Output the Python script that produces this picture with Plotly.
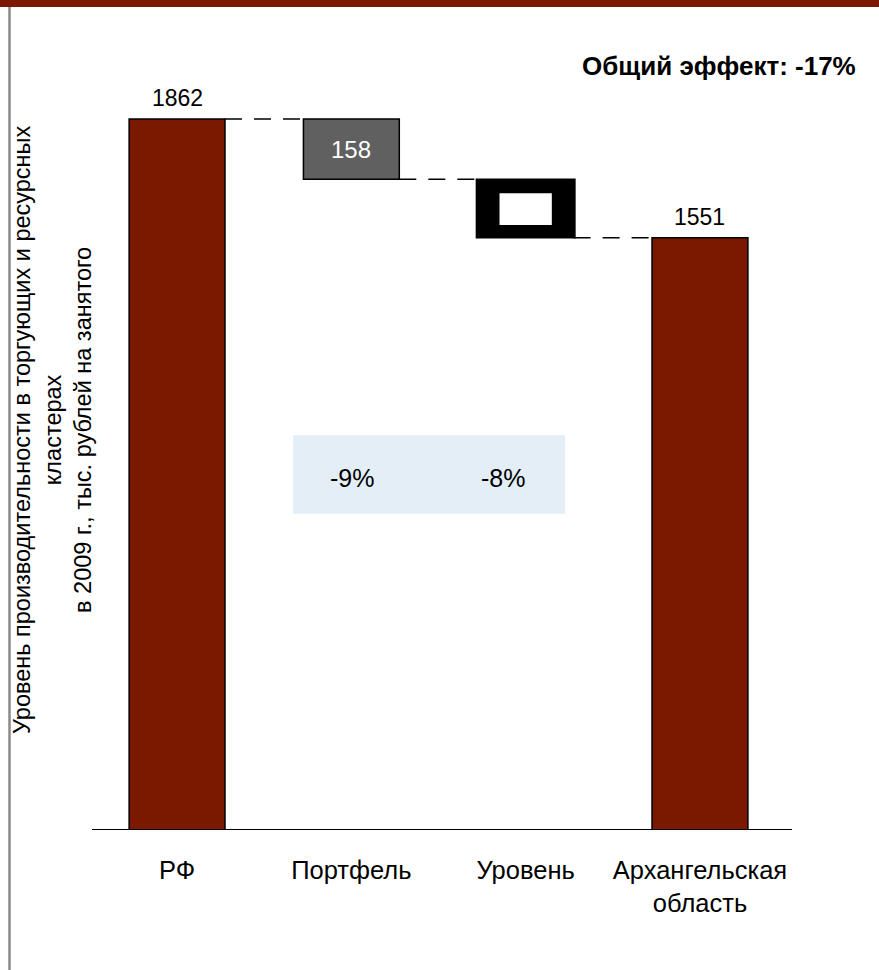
import plotly.graph_objects as go

categories = ["РФ", "Портфель", "Уровень", "Архангельская<br>область"]
start_value = 1862
end_value = 1551
step_values = [158, 153]          # decreases: Портфель, Уровень
step_labels = ["158", ""]
pct_labels = ["-9%", "-8%"]
total_label = "Общий эффект: -17%"
y_title = ("Уровень производительности в торгующих и ресурсных<br>"
           "кластерах<br>в 2009 г., тыс. рублей на занятого")

RED = "#7B1800"
GRAY = "#606060"
FONT = "Liberation Sans, Arial, sans-serif"

fig = go.Figure()

# totals
fig.add_trace(go.Bar(
    x=[categories[0], categories[3]], y=[start_value, end_value],
    width=0.55, marker=dict(color=RED, line=dict(color="black", width=1.5)),
    showlegend=False, hoverinfo="skip"))
for cat, v in [(categories[0], start_value), (categories[3], end_value)]:
    fig.add_annotation(x=cat, y=v, xref="x", yref="y", text=str(v), showarrow=False,
                       yanchor="bottom", yshift=6,
                       font=dict(size=23, color="black", family=FONT))

# steps
top1 = start_value
base1 = start_value - step_values[0]
base2 = base1 - step_values[1]
fig.add_trace(go.Bar(
    x=[categories[1]], y=[step_values[0]], base=[base1], width=0.55,
    marker=dict(color=GRAY, line=dict(color="black", width=1.5)),
    showlegend=False, hoverinfo="skip"))
fig.add_annotation(x=categories[1], y=base1 + step_values[0] / 2, xref="x", yref="y",
                   text=step_labels[0], showarrow=False,
                   font=dict(size=24, color="white", family=FONT))
fig.add_trace(go.Bar(
    x=[categories[2]], y=[step_values[1]], base=[base2], width=0.565,
    marker=dict(color="black", line=dict(color="black", width=1.5)),
    showlegend=False, hoverinfo="skip"))
# white inner window of the Уровень step
fig.add_trace(go.Bar(
    x=[categories[2]], y=[step_values[1] * 0.54], base=[base2 + step_values[1] * 0.22],
    width=0.30, marker=dict(color="white", line=dict(width=0)),
    showlegend=False, hoverinfo="skip"))

fig.update_layout(barmode="overlay")

# dashed connectors
conn = [(0, 1, top1), (1, 2, base1), (2, 3, base2)]
for i, j, yv in conn:
    fig.add_shape(type="line", xref="x", yref="y",
                  x0=i + 0.275, x1=j - 0.283, y0=yv, y1=yv,
                  line=dict(color="black", width=1.5, dash="17px,12px"))

# light blue box with percentages
fig.add_shape(type="rect", xref="x", yref="y", x0=0.666, x1=2.226,
              y0=828, y1=1034, fillcolor="#E3EEF7", line=dict(width=0), layer="below")
for k, lab in enumerate(pct_labels):
    fig.add_annotation(x=[1.004, 1.87][k], y=922, xref="x", yref="y", text=lab,
                       showarrow=False, font=dict(size=25, color="black", family=FONT))

# total effect label
fig.add_annotation(x=(858 - 92) / 700, y=(830 - 66) / 770, xref="paper", yref="paper",
                   text="<b>" + total_label + "</b>",
                   showarrow=False, xanchor="right", yanchor="middle",
                   font=dict(size=26, color="black", family=FONT))

# y title as rotated annotation
fig.add_annotation(x=(52 - 92) / 700, y=(830 - 430) / 770, xref="paper", yref="paper",
                   text=y_title, textangle=-90, showarrow=False, align="center",
                   xanchor="center", yanchor="middle",
                   font=dict(size=23.5, color="black", family=FONT))

# frame decorations: top band and left rule
fig.add_shape(type="rect", xref="paper", yref="paper", x0=-0.2, x1=1.2,
              y0=1 + 53 / 770, y1=1 + 62 / 770, fillcolor=RED, line=dict(width=0))
fig.add_shape(type="line", xref="paper", yref="paper", x0=-82.5 / 700, x1=-82.5 / 700,
              y0=1 + 53 / 770, y1=-0.2, line=dict(color="#8a8a8a", width=2.5))

fig.update_layout(
    width=879, height=970,
    margin=dict(l=92, r=87, t=60, b=140),
    plot_bgcolor="white", paper_bgcolor="white",
    font=dict(family=FONT, size=24, color="black"),
    xaxis=dict(range=[-0.488, 3.528], showgrid=False, showline=False,
               categoryorder="array", categoryarray=categories,
               ticks="outside", ticklen=17, tickcolor="rgba(0,0,0,0)",
               tickfont=dict(size=25.5, family=FONT), zeroline=False, fixedrange=True),
    yaxis=dict(range=[0, 2016.5], showgrid=False, showticklabels=False, zeroline=False,
               showline=False, ticks=""),
)
fig.add_shape(type="line", xref="paper", yref="y", x0=0, x1=1, y0=0, y1=0,
              line=dict(color="black", width=2))

fig.write_html("out.html", config={"displayModeBar": False},
               post_script="document.body.style.margin='0';")
